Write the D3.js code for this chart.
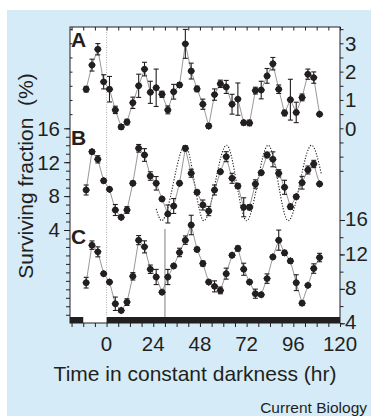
<!DOCTYPE html>
<html>
<head>
<meta charset="utf-8">
<script src="https://cdn.jsdelivr.net/npm/d3@7"></script>
<style>
  body { margin: 0; background: #fff; }
  text { font-family: "Liberation Sans", Arial, Helvetica, sans-serif; fill: #231f20; }
</style>
</head>
<body>
<script>
// sampling times (hr in constant darkness)
const hours = [-10.5, -7.5, -4.5, -1.5, 1.5, 4.5, 7.5, 10.5, 13.5, 16.5, 19.5, 22.5, 25.5, 28.5,
  31.5, 34.5, 37.5, 40.5, 43.5, 46.5, 49.5, 52.5, 55.5, 58.5, 61.5, 64.5, 67.5, 70.5, 73.5,
  76.5, 79.5, 82.5, 85.5, 88.5, 91.5, 94.5, 97.5, 100.5, 103.5, 106.5, 109.5];

// panel A (right axis, 0-3)
const seriesA = [1.38, 2.23, 2.79, 1.64, 1.38, 0.65, 0.05, 0.22, 0.90, 1.50, 2.09, 1.27, 1.43, 1.20,
  0.65, 1.29, 1.53, 2.98, 2.02, 1.39, 0.85, 0.08, 1.19, 1.57, 1.46, 0.85, 1.03, 0.20, 0.19,
  1.33, 1.35, 1.85, 2.28, 1.38, 0.54, 1.01, 0.56, 1.09, 1.91, 1.79, 0.50];
const errA = [0.10, 0.21, 0.20, 0.25, 0.45, 0.13, 0.08, 0.10, 0.20, 0.41, 0.24, 0.39, 0.66, 0.11,
  0.14, 0.26, 0.08, 0.51, 0.28, 0.10, 0.18, 0.08, 0.20, 0.13, 0.23, 0.35, 0.57, 0.08, 0.10,
  0.12, 0.31, 0.26, 0.22, 0.15, 0.10, 0.72, 0.36, 0.12, 0.18, 0.20, 0.05];

// panel B (left axis, 4-16)
const seriesB = [8.72, 13.24, 12.34, 9.82, 8.8, 6.36, 5.5, 6.36, 9.51, 13.64, 12.85, 10.37, 9.51, 7.66,
  5.89, 6.83, 9.51, 13.64, 10.69, 8.45, 6.95, 6.24, 8.72, 10.88, 12.65, 10.1, 9.19, 6.68, 6.68,
  9.43, 10.76, 12.85, 12.34, 10.69, 9.04, 6.75, 7.93, 9.58, 11.08, 11.79, 9.43];
const errB = [0.59, 0.24, 0.43, 0.24, 0.15, 0.65, 0.2, 0.4, 0.25, 0.45, 0.75, 0.5, 0.8, 0.2,
  1.06, 0.88, 0.25, 0.3, 0.47, 0.25, 0.59, 0.55, 0.59, 0.2, 0.59, 0.59, 0.3, 1.12, 0.3,
  0.49, 0.2, 0.33, 0.88, 0.43, 0.83, 0.3, 0.25, 0.75, 0.47, 0.43, 0.15];

// dotted reference wave in B: hr / value read at its ends, troughs and peaks
const fitHours = [25.5, 28.3, 40.4, 50.0, 61.7, 72.0, 83.1, 93.4, 105.4, 110.5];
const fitValues = [6.5, 5.1, 14.0, 5.1, 14.0, 5.1, 14.0, 5.1, 14.0, 10.5];

// panel C (right axis, 4-16)
const seriesC = [8.72, 13.08, 12.3, 9.77, 8.79, 6.27, 5.49, 6.46, 9.46, 13.66, 12.88, 10.28, 9.38, 7.62,
  9.38, 10.66, 12.23, 13.66, 15.42, 12.58, 10.94, 8.79, 8.29, 7.82, 9.77, 11.91, 12.69, 10.28, 8.79,
  7.44, 7.32, 9.19, 11.71, 13.66, 12.18, 11.25, 8.72, 6.34, 8.41, 10.36, 11.64];
const errC = [0.62, 0.49, 0.58, 0.2, 0.15, 0.78, 0.2, 0.39, 0.43, 0.53, 0.7, 0.49, 0.88, 0.15,
  0.88, 0.2, 0.49, 0.49, 1.13, 0.25, 0.3, 0.2, 0.64, 0.39, 0.64, 0.2, 0.3, 0.7, 0.2,
  0.53, 0.2, 0.55, 0.2, 1.17, 0.3, 0.25, 0.92, 0.25, 0.2, 0.55, 0.49];

const xLabels = [0, 24, 48, 72, 96, 120];
const labelsA = [0, 1, 2, 3];
const labelsB = [4, 8, 12, 16];
const labelsC = [4, 8, 12, 16];
// light/dark bar: [start, end] of dark periods (hr)
const darkPeriods = [[-18.8, -12], [0, 120]];
const markerLineHr = 30;

const W = 371, H = 416;
const pl = 70, pr = 340, pt = 27, pb = 323;

const svg = d3.select("body").append("svg").attr("width", W).attr("height", H);
svg.append("rect").attr("width", W).attr("height", H).attr("fill", "#fff");
svg.append("rect").attr("x", 7).attr("y", 10).attr("width", W - 7).attr("height", H - 10).attr("fill", "#d5ebf8");
svg.append("rect").attr("x", pl).attr("y", pt).attr("width", pr - pl).attr("height", pb - pt).attr("fill", "#fff");

const x = d3.scaleLinear().domain([-18.8, 120]).range([pl, pr]);
const yA = d3.scaleLinear().domain([0, 3]).range([128.3, 43.3]);
const yB = d3.scaleLinear().domain([4, 16]).range([230, 128.3]);
const yC = d3.scaleLinear().domain([4, 16]).range([323.3, 220]);

// light/dark bar
svg.append("g").selectAll("rect").data(darkPeriods).join("rect")
  .attr("x", d => x(d[0])).attr("width", d => x(d[1]) - x(d[0]))
  .attr("y", pb - 6).attr("height", 6).attr("fill", "#231f20");

// dotted line at 0 hr
svg.append("line").attr("x1", x(0)).attr("x2", x(0)).attr("y1", pt).attr("y2", pb - 6)
  .attr("stroke", "#999").attr("stroke-width", 0.8).attr("stroke-dasharray", "1,1.5");

// grey marker in C
svg.append("line").attr("x1", x(markerLineHr)).attr("x2", x(markerLineHr)).attr("y1", 229).attr("y2", pb - 6)
  .attr("stroke", "#aaa").attr("stroke-width", 1.5);

// dotted wave
const fit = fitHours.map((h, i) => [h, fitValues[i]]);
svg.append("path").datum(fit)
  .attr("d", d3.line().x(d => x(d[0])).y(d => yB(d[1])).curve(d3.curveMonotoneX))
  .attr("fill", "none").attr("stroke", "#231f20").attr("stroke-width", 1.1).attr("stroke-dasharray", "1.2,1.6");

function drawSeries(vals, errs, y) {
  const data = hours.map((h, i) => ({ h: h, v: vals[i], e: errs[i] }));
  const g = svg.append("g");
  g.append("path").datum(data)
    .attr("d", d3.line().x(d => x(d.h)).y(d => y(d.v)))
    .attr("fill", "none").attr("stroke", "#8c8c8c").attr("stroke-width", 0.9);
  const eb = g.selectAll(".eb").data(data).join("g").attr("class", "eb")
    .attr("stroke", "#231f20").attr("stroke-width", 1.1);
  eb.append("line").attr("x1", d => x(d.h)).attr("x2", d => x(d.h))
    .attr("y1", d => y(d.v - d.e)).attr("y2", d => y(d.v + d.e));
  eb.append("line").attr("x1", d => x(d.h) - 2.5).attr("x2", d => x(d.h) + 2.5)
    .attr("y1", d => y(d.v - d.e)).attr("y2", d => y(d.v - d.e));
  eb.append("line").attr("x1", d => x(d.h) - 2.5).attr("x2", d => x(d.h) + 2.5)
    .attr("y1", d => y(d.v + d.e)).attr("y2", d => y(d.v + d.e));
  const mk = g.selectAll(".mk").data(data).join("g").attr("class", "mk")
    .attr("transform", d => `translate(${x(d.h)},${y(d.v)})`).attr("fill", "#231f20");
  mk.append("circle").attr("r", 3.2);
  mk.append("path").attr("d", d3.symbol(d3.symbolSquare, 30)()).attr("transform", "rotate(45)");
}
drawSeries(seriesA, errA, yA);
drawSeries(seriesB, errB, yB);
drawSeries(seriesC, errC, yC);

// frame
svg.append("rect").attr("x", pl).attr("y", pt).attr("width", pr - pl).attr("height", pb - pt)
  .attr("fill", "none").attr("stroke", "#231f20").attr("stroke-width", 1);

function styleAxis(g) {
  g.select(".domain").remove();
  g.selectAll("line").attr("stroke", "#231f20");
}

const hrTicks = d3.range(-18, 121, 6);
svg.append("g").attr("transform", `translate(0,${pb})`)
  .call(d3.axisBottom(x).tickValues(hrTicks).tickSize(4).tickFormat(""))
  .call(styleAxis);
svg.append("g").attr("transform", `translate(0,${pt})`)
  .call(d3.axisBottom(x).tickValues(hrTicks).tickSize(3.5).tickFormat(""))
  .call(styleAxis);

// left: A region inward, B/C region outward
svg.append("g").attr("transform", `translate(${pl},0)`)
  .call(d3.axisRight(yA).tickValues(d3.range(0.5, 3.6, 0.5)).tickSize(2.5).tickFormat(""))
  .call(styleAxis);
svg.append("g").attr("transform", `translate(${pl},0)`)
  .call(d3.axisLeft(yB).tickValues(d3.range(-6, 17, 1)).tickSize(4).tickFormat(""))
  .call(styleAxis);
svg.append("g").attr("transform", `translate(${pl},0)`)
  .call(d3.axisLeft(yB).tickValues(labelsB).tickSize(6).tickFormat(""))
  .call(styleAxis);

// right: A and C
svg.append("g").attr("transform", `translate(${pr},0)`)
  .call(d3.axisRight(yA).tickValues(d3.range(-1.5, 3.6, 0.5)).tickSize(3.5).tickFormat(""))
  .call(styleAxis);
svg.append("g").attr("transform", `translate(${pr},0)`)
  .call(d3.axisRight(yC).tickValues(d3.range(4, 17, 2)).tickSize(3.5).tickFormat(""))
  .call(styleAxis);
svg.append("g").attr("transform", `translate(${pr},0)`)
  .call(d3.axisRight(yC).tickValues(labelsC).tickSize(5).tickFormat(""))
  .call(styleAxis);

const fs = "20.5px";
svg.append("g").selectAll("text").data(xLabels).join("text")
  .attr("x", d => x(d)).attr("y", 351).attr("text-anchor", "middle").attr("font-size", fs).text(d => d);
svg.append("g").selectAll("text").data(labelsA).join("text")
  .attr("x", 345).attr("y", d => yA(d)).attr("dy", "0.36em").attr("font-size", fs).text(d => d);
svg.append("g").selectAll("text").data(labelsC).join("text")
  .attr("x", 345).attr("y", d => yC(d)).attr("dy", "0.3em").attr("font-size", fs).text(d => d);
svg.append("g").selectAll("text").data(labelsB).join("text")
  .attr("x", 60).attr("y", d => yB(d)).attr("dy", "0.36em").attr("text-anchor", "end").attr("font-size", fs).text(d => d);

// panel letters
[["A", 46.5], ["B", 145], ["C", 243.5]].forEach(([t, yy]) => {
  svg.append("text").attr("x", 71).attr("y", yy).attr("font-size", "21px").attr("font-weight", "bold").text(t);
});

svg.append("text").attr("x", 195).attr("y", 380.5).attr("text-anchor", "middle").attr("font-size", "21px")
  .text("Time in constant darkness (hr)");
svg.append("text").attr("transform", "translate(33,176) rotate(-90)").attr("text-anchor", "middle")
  .attr("font-size", "21px").attr("xml:space", "preserve").text("Surviving fraction  (%)");
svg.append("text").attr("x", 367).attr("y", 413).attr("text-anchor", "end").attr("font-size", "15.5px")
  .text("Current Biology");
</script>
</body>
</html>
